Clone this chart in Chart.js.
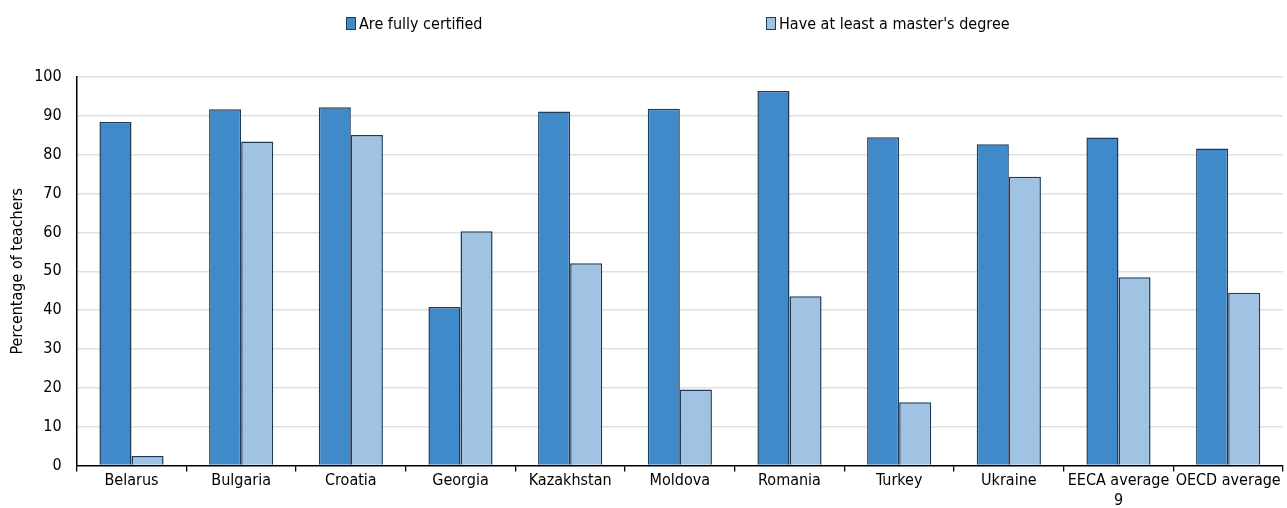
<!DOCTYPE html>
<html>
<head>
<meta charset="utf-8">
<script src="https://cdn.jsdelivr.net/npm/chart.js@4.4.1/dist/chart.umd.min.js"></script>
<style>
html, body { margin: 0; padding: 0; background: #fff; }
#wrap { position: relative; width: 1287px; height: 508px; }
#leyenda { position: absolute; top: 13px; left: 0; width: 1287px; height: 20px;
  font: 16px 'DejaVu Sans Condensed', 'DejaVu Sans', sans-serif; color: #000; }
.item { position: absolute; top: 0; display: flex; align-items: center; white-space: nowrap; height: 20px; }
.caja { width: 8px; height: 11px; border: 1px solid #1F3B5C; margin-right: 3px; }
canvas { position: absolute; left: 0; top: 0; }
</style>
</head>
<body>
<div id="wrap">
  <canvas id="grafico" width="1287" height="508"></canvas>
  <div id="leyenda"></div>
</div>
<script>
const categorias = ['Belarus', 'Bulgaria', 'Croatia', 'Georgia', 'Kazakhstan', 'Moldova',
  'Romania', 'Turkey', 'Ukraine', ['EECA average', '9'], 'OECD average'];
const certificados = [88.4, 91.7, 92.2, 40.8, 91.1, 91.8, 96.4, 84.5, 82.7, 84.4, 81.6];
const master = [2.5, 83.4, 85.1, 60.3, 52.1, 19.6, 43.6, 16.3, 74.3, 48.5, 44.5];
const nombresSeries = ['Are fully certified', "Have at least a master's degree"];
const marcasY = [0, 10, 20, 30, 40, 50, 60, 70, 80, 90, 100];

const colores = ['#418AC9', '#A0C3E4'];
const borde = '#1F3B5C';
const fuente = { family: "'DejaVu Sans Condensed', 'DejaVu Sans', sans-serif", size: 16 };

// leyenda en HTML, los dos items muy separados como en el original
const posLeyenda = [346, 766];
const leyenda = document.getElementById('leyenda');
nombresSeries.forEach((nombre, i) => {
    const div = document.createElement('div');
    div.className = 'item';
    div.style.left = posLeyenda[i] + 'px';
    div.innerHTML = `<span class="caja" style="background:${colores[i]}"></span>${nombre}`;
    leyenda.appendChild(div);
});

const ctx = document.getElementById('grafico').getContext('2d');
new Chart(ctx, {
    type: 'bar',
    data: {
        labels: categorias,
        datasets: [{
            label: nombresSeries[0],
            data: certificados,
            backgroundColor: colores[0],
            borderColor: borde,
            borderWidth: 1.5
        }, {
            label: nombresSeries[1],
            data: master,
            backgroundColor: colores[1],
            borderColor: borde,
            borderWidth: 1.5
        }]
    },
    options: {
        responsive: false,
        animation: false,
        categoryPercentage: 0.585,
        barPercentage: 1,
        layout: { padding: { top: 77, right: 4, left: 8, bottom: -2 } },
        plugins: {
            legend: { display: false },
            tooltip: { enabled: false }
        },
        scales: {
            x: {
                grid: { offset: true, drawOnChartArea: false, drawTicks: true, tickLength: 6, color: '#000', lineWidth: 1.3 },
                border: { color: '#000', width: 1.5 },
                ticks: { color: '#000', font: fuente, padding: 0, maxRotation: 0, autoSkip: false }
            },
            y: {
                min: 0,
                max: 100,
                afterBuildTicks: axis => { axis.ticks = marcasY.map(v => ({ value: v })); },
                ticks: { color: '#000', font: fuente, padding: 15 },
                grid: {
                    color: c => (c.tick && c.tick.value === 0) ? 'rgba(0,0,0,0)' : '#E0E0E0',
                    lineWidth: 1.5,
                    drawTicks: false
                },
                border: { color: '#000', width: 1.5 },
                title: { display: true, text: 'Percentage of teachers', color: '#000', font: fuente, padding: { top: 0, bottom: -8 } }
            }
        }
    }
});
</script>
</body>
</html>
